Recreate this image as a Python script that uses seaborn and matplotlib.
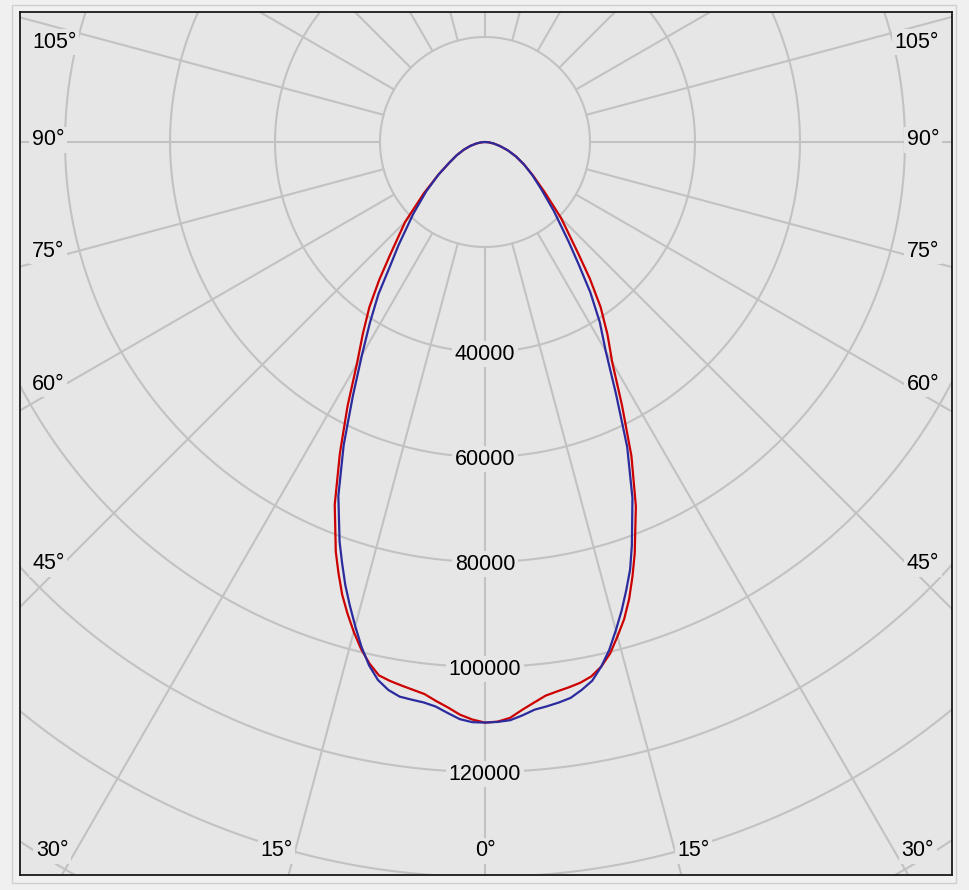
import numpy as np
import pandas as pd
import matplotlib
matplotlib.use("Agg")
import matplotlib.pyplot as plt
import seaborn as sns
from matplotlib.patches import Rectangle

# ---------------------------------
# DATA (luminous intensity, cd)
# ---------------------------------

# gamma angles, 0 = straight down
angles = [0, 1.25, 2.5, 3.75, 5, 6.25, 7.5, 8.75, 10, 11.25, 12.5, 13.75,
          15, 16.25, 17.5, 18.75, 20, 22.5, 25, 27.5, 30, 32.5, 35, 37.5,
          40, 45, 50, 55, 60, 65, 70, 75, 80, 85, 90]

red_left = [110600, 110050, 109200, 107950, 106900, 105800, 105250, 104750,
            104250, 103600, 101750, 99400, 96600, 93600, 90450, 86800,
            83100, 74800, 65400, 56700, 48800, 43300, 38400, 33100, 28200,
            21500, 15200, 10800, 7800, 5900, 4300, 2900, 1700, 700, 0]
red_right = [110600, 110450, 109800, 108400, 107200, 106100, 105550, 105100,
             104600, 103800, 102350, 100300, 97500, 94700, 91300, 87400,
             83400, 75100, 66000, 56500, 48500, 43400, 38400, 32800, 27500,
             20500, 14800, 11200, 8600, 6500, 4600, 2900, 1700, 700, 0]

blue_left = [110600, 110550, 110050, 109000, 107950, 107400, 107150, 106900,
             106000, 104500, 102100, 99000, 95500, 92000, 88500, 84700,
             81000, 73000, 63700, 54500, 46900, 40800, 35400, 29600, 25600,
             19300, 14600, 10800, 7800, 5900, 4300, 2900, 1700, 700, 0]
blue_right = [110600, 110500, 110250, 109450, 108550, 108150, 107700, 107150,
              106000, 104650, 102350, 99600, 96300, 93000, 89500, 86000,
              81800, 73400, 64100, 54000, 46000, 40700, 35000, 29200, 24800,
              18500, 14000, 11000, 8600, 6500, 4600, 2900, 1700, 700, 0]

ring_values = [20000, 40000, 60000, 80000, 100000, 120000, 140000, 160000]
ring_labels = [40000, 60000, 80000, 100000, 120000]
spoke_angles = list(range(0, 360, 15))
angle_labels = [0, 15, 30, 45, 60, 75, 90, 105]

# ---------------------------------
# STYLE
# ---------------------------------

sns.set_style("white")
plt.rcParams["font.family"] = ["Liberation Sans", "DejaVu Sans"]

BG = "#e6e6e6"
FIG_BG = "#f0f0f0"
GRID = "#c2c2c2"
K = 190.5          # cd per pixel
W, H = 969, 890
FS = 15.5

fig = plt.figure(figsize=(W / 100, H / 100), dpi=100, facecolor=FIG_BG)
fig.patches.append(Rectangle((12 / W, 1 - 883 / H), 944 / W, 878 / H,
                             transform=fig.transFigure, fill=False,
                             edgecolor="#cfcfcf", linewidth=1.0))

ax = fig.add_axes([20 / W, 1 - 875 / H, 932 / W, 863 / H])
ax.set_facecolor(BG)
ax.set_xlim(-465 * K, 467 * K)
ax.set_ylim(-733 * K, 130 * K)
ax.set_aspect("equal")
ax.set_xticks([])
ax.set_yticks([])
for s in ax.spines.values():
    s.set_color("#1a1a1a")
    s.set_linewidth(1.3)
    s.set_visible(True)

# ---------------------------------
# POLAR GRID
# ---------------------------------

t = np.linspace(0, 2 * np.pi, 721)
for r in ring_values:
    ax.plot(r * np.sin(t), r * np.cos(t), color=GRID, lw=1.5, zorder=1)

for a in spoke_angles:
    rad = np.radians(a)
    rr = np.array([ring_values[0], 250000])
    ax.plot(rr * np.sin(rad), -rr * np.cos(rad), color=GRID, lw=1.5, zorder=1)

box = dict(boxstyle="square,pad=0.12", fc=BG, ec="none")

for v in ring_labels:
    ax.text(0, -v - 400, f"{v}", ha="center", va="center", fontsize=FS,
            color="black", bbox=box, zorder=3)

# angle labels, placed where the spoke reaches an inset box
xi, yb, yt = 435 * K, -709 * K, 100 * K
for a in angle_labels:
    for side in ([1] if a == 0 else [-1, 1]):
        on_bottom = a < 45
        off = (1.4 if a else 0) if on_bottom else (0.9 if a < 90 else 0.3)
        rad = np.radians(a + off)
        sx, cy = np.sin(rad), np.cos(rad)
        if on_bottom:
            ax.text(side * (-yb / cy * sx), yb, f"{a}°", ha="center",
                    va="center", fontsize=FS, color="black", bbox=box, zorder=3)
        else:
            y = min(max(-xi / sx * cy, yb), yt)
            if side < 0:
                ax.text(-453 * K, y, f"{a}°", ha="left", va="center",
                        fontsize=FS, color="black", bbox=box, zorder=3)
            else:
                ax.text(454 * K, y, f"{a}°", ha="right", va="center",
                        fontsize=FS, color="black", bbox=box, zorder=3)

# ---------------------------------
# CURVES
# ---------------------------------

def curve(left, right):
    g = np.radians(np.concatenate([-np.array(angles[::-1]), np.array(angles[1:])]))
    i = np.concatenate([np.array(left[::-1]), np.array(right[1:])])
    return pd.DataFrame({"x": i * np.sin(g), "y": -i * np.cos(g)})

red = curve(red_left, red_right)
blue = curve(blue_left, blue_right)

sns.lineplot(data=red, x="x", y="y", sort=False, estimator=None,
             color="#cc0000", linewidth=1.6, ax=ax, zorder=4)
sns.lineplot(data=blue, x="x", y="y", sort=False, estimator=None,
             color="#2b2b9e", linewidth=1.6, ax=ax, zorder=5)

ax.set_xlabel("")
ax.set_ylabel("")

fig.savefig("out.png", dpi=100, facecolor=FIG_BG)
